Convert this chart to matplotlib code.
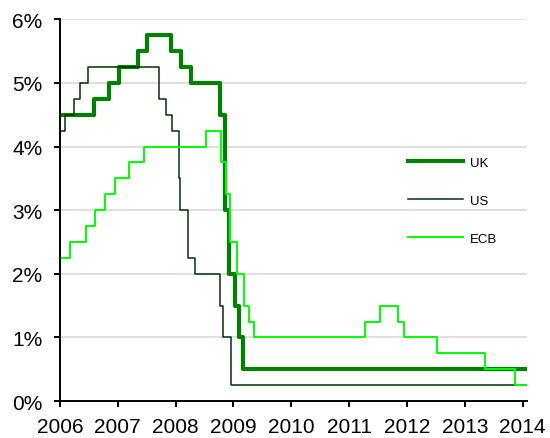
import matplotlib

matplotlib.use("Agg")

import matplotlib.dates as mdates
import matplotlib.pyplot as plt
import numpy as np

# Policy rate changes (effective date, new rate in %), held until the next change.
uk_dates = ["2006-01-01", "2006-08-03", "2006-11-09", "2007-01-11", "2007-05-10",
            "2007-07-05", "2007-12-06", "2008-02-07", "2008-04-10", "2008-10-08",
            "2008-11-06", "2008-12-04", "2009-01-08", "2009-02-05", "2009-03-05"]
uk_rates = [4.5, 4.75, 5.0, 5.25, 5.5, 5.75, 5.5, 5.25, 5.0, 4.5, 3.0, 2.0, 1.5, 1.0, 0.5]

us_dates = ["2006-01-01", "2006-01-31", "2006-03-28", "2006-05-10", "2006-06-29",
            "2007-09-18", "2007-10-31", "2007-12-11", "2008-01-22", "2008-01-30",
            "2008-03-18", "2008-04-30", "2008-10-08", "2008-10-29", "2008-12-16"]
us_rates = [4.25, 4.5, 4.75, 5.0, 5.25, 4.75, 4.5, 4.25, 3.5, 3.0, 2.25, 2.0, 1.5, 1.0, 0.25]

ecb_dates = ["2006-01-01", "2006-03-08", "2006-06-15", "2006-08-09", "2006-10-11",
             "2006-12-13", "2007-03-14", "2007-06-13", "2008-07-09", "2008-10-15",
             "2008-11-12", "2008-12-10", "2009-01-21", "2009-03-11", "2009-04-08",
             "2009-05-13", "2011-04-13", "2011-07-13", "2011-11-09", "2011-12-14",
             "2012-07-11", "2013-05-08", "2013-11-13"]
ecb_rates = [2.25, 2.5, 2.75, 3.0, 3.25, 3.5, 3.75, 4.0, 4.25, 3.75, 3.25, 2.5, 2.0,
             1.5, 1.25, 1.0, 1.25, 1.5, 1.25, 1.0, 0.75, 0.5, 0.25]

start, end = "2006-01-01", "2014-01-28"
series = [
    ("UK", uk_dates, uk_rates, "#008000", 3.0),
    ("US", us_dates, us_rates, "#003300", 1.1),
    ("ECB", ecb_dates, ecb_rates, "#00FF00", 1.4),
]

plt.rcParams["font.family"] = ["Liberation Sans", "DejaVu Sans"]

fig = plt.figure(figsize=(5.5, 4.39), dpi=100)
ax = fig.add_axes([0.109, 0.084, 0.849, 0.87])

for name, dates, rates, color, lw in series:
    x = np.array(dates + [end], dtype="datetime64[D]")
    y = rates + [rates[-1]]
    ax.step(x, y, where="post", color=color, lw=lw, label=name)

ax.set_xlim(np.datetime64(start), np.datetime64(end))
ax.set_ylim(0, 6)
ax.set_yticks(range(0, 7))
ax.set_yticklabels([f"{v}%" for v in range(0, 7)])
ax.xaxis.set_major_locator(mdates.YearLocator())
ax.xaxis.set_major_formatter(mdates.DateFormatter("%Y"))

ax.grid(axis="y", color="#d9d9d9", lw=1.2)
ax.set_axisbelow(True)
for side in ("top", "right"):
    ax.spines[side].set_visible(False)
for side in ("left", "bottom"):
    ax.spines[side].set_linewidth(1.4)
ax.tick_params(axis="both", direction="out", length=4.5, width=1.4, labelsize=15)
ax.tick_params(axis="y", pad=8)
ax.tick_params(axis="x", pad=7)

ax.legend(loc="upper left", bbox_to_anchor=(0.745, 0.64), frameon=False,
          fontsize=9.5, handlelength=4.2, handletextpad=0.5, labelspacing=1.95,
          borderpad=0, borderaxespad=0)

fig.savefig("out.png", dpi=100)
plt.close(fig)
